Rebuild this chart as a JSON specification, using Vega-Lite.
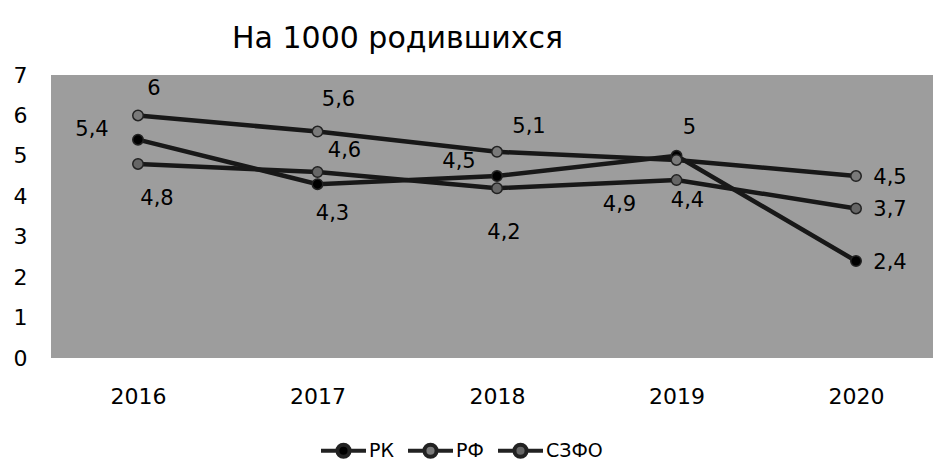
{
  "$schema": "https://vega.github.io/schema/vega-lite/v6.json",
  "width": 882,
  "height": 283,
  "autosize": "none",
  "padding": {"left": 51, "top": 75, "right": 0, "bottom": 104},
  "background": "white",
  "config": {
    "view": {"fill": "#9d9d9d", "stroke": null},
    "font": "DejaVu Sans",
    "locale": {"number": {"decimal": ",", "thousands": " ", "grouping": [3], "currency": ["", ""]}}
  },
  "title": {"text": "На 1000 родившихся", "anchor": "start", "frame": "group", "dx": 181, "fontSize": 30, "fontWeight": "normal", "color": "#000", "offset": 10, "font": "DejaVu Sans"},
  "data": {"values": [
    {"s": "РК", "year": "2016", "v": 5.4},
    {"s": "РК", "year": "2017", "v": 4.3},
    {"s": "РК", "year": "2018", "v": 4.5},
    {"s": "РК", "year": "2019", "v": 5.0},
    {"s": "РК", "year": "2020", "v": 2.4},
    {"s": "РФ", "year": "2016", "v": 6.0},
    {"s": "РФ", "year": "2017", "v": 5.6},
    {"s": "РФ", "year": "2018", "v": 5.1},
    {"s": "РФ", "year": "2019", "v": 4.9},
    {"s": "РФ", "year": "2020", "v": 4.5},
    {"s": "СЗФО", "year": "2016", "v": 4.8},
    {"s": "СЗФО", "year": "2017", "v": 4.6},
    {"s": "СЗФО", "year": "2018", "v": 4.2},
    {"s": "СЗФО", "year": "2019", "v": 4.4},
    {"s": "СЗФО", "year": "2020", "v": 3.7}
  ]},
  "encoding": {
    "x": {"field": "year", "type": "ordinal", "scale": {"type": "point", "range": [87, 805], "padding": 0},
      "axis": {"title": null, "labelAngle": 0, "domain": false, "ticks": false, "labelFontSize": 22, "labelPadding": 28, "labelColor": "#000"}},
    "y": {"field": "v", "type": "quantitative", "scale": {"domain": [0, 7], "nice": false},
      "axis": {"title": null, "values": [0, 1, 2, 3, 4, 5, 6, 7], "grid": false, "domain": false, "ticks": false, "labelFontSize": 22, "labelPadding": 24, "labelColor": "#000"}}
  },
  "layer": [
    {
      "mark": {"type": "line", "strokeWidth": 4.5, "color": "#181818"},
      "encoding": {"detail": {"field": "s", "type": "nominal"}}
    },
    {
      "mark": {"type": "point", "filled": true, "size": 110, "opacity": 1, "stroke": "#222222", "strokeWidth": 1.5},
      "encoding": {"fill": {"field": "s", "type": "nominal", "scale": {"domain": ["РК", "РФ", "СЗФО"], "range": ["#000000", "#7a7a7a", "#666666"]},
        "legend": {"title": null, "orient": "none", "legendX": 279, "legendY": 362, "direction": "horizontal",
          "symbolType": "M-2,0L-0.54,0M0.54,0L2,0M-0.54,0A0.54,0.54 0 1,0 0.54,0A0.54,0.54 0 1,0 -0.54,0Z",
          "symbolSize": 506, "labelFontSize": 19, "labelOffset": 12, "columnPadding": 6, "labelColor": "#000",
          "symbolStrokeWidth": 4, "symbolStrokeColor": "#222222"}}}
    },
    {"transform": [{"filter": "datum.year === '2020'"}], "mark": {"type": "text", "fontSize": 21, "dx": 34, "dy": 2, "color": "#000"}, "encoding": {"text": {"field": "v", "type": "quantitative", "format": ".1~f"}}},
    {"transform": [{"filter": "datum.s === 'РФ' && datum.year === '2016'"}], "mark": {"type": "text", "fontSize": 21, "dx": 16, "dy": -26, "color": "#000"}, "encoding": {"text": {"field": "v", "type": "quantitative", "format": ".1~f"}}},
    {"transform": [{"filter": "datum.s === 'РФ' && datum.year === '2017'"}], "mark": {"type": "text", "fontSize": 21, "dx": 21, "dy": -32, "color": "#000"}, "encoding": {"text": {"field": "v", "type": "quantitative", "format": ".1~f"}}},
    {"transform": [{"filter": "datum.s === 'РФ' && datum.year === '2018'"}], "mark": {"type": "text", "fontSize": 21, "dx": 32, "dy": -25, "color": "#000"}, "encoding": {"text": {"field": "v", "type": "quantitative", "format": ".1~f"}}},
    {"transform": [{"filter": "datum.s === 'РФ' && datum.year === '2019'"}], "mark": {"type": "text", "fontSize": 21, "dx": -57, "dy": 45, "color": "#000"}, "encoding": {"text": {"field": "v", "type": "quantitative", "format": ".1~f"}}},
    {"transform": [{"filter": "datum.s === 'РК' && datum.year === '2016'"}], "mark": {"type": "text", "fontSize": 21, "dx": -46, "dy": -10, "color": "#000"}, "encoding": {"text": {"field": "v", "type": "quantitative", "format": ".1~f"}}},
    {"transform": [{"filter": "datum.s === 'РК' && datum.year === '2017'"}], "mark": {"type": "text", "fontSize": 21, "dx": 15, "dy": 30, "color": "#000"}, "encoding": {"text": {"field": "v", "type": "quantitative", "format": ".1~f"}}},
    {"transform": [{"filter": "datum.s === 'РК' && datum.year === '2018'"}], "mark": {"type": "text", "fontSize": 21, "dx": -38, "dy": -14, "color": "#000"}, "encoding": {"text": {"field": "v", "type": "quantitative", "format": ".1~f"}}},
    {"transform": [{"filter": "datum.s === 'РК' && datum.year === '2019'"}], "mark": {"type": "text", "fontSize": 21, "dx": 13, "dy": -28, "color": "#000"}, "encoding": {"text": {"field": "v", "type": "quantitative", "format": ".1~f"}}},
    {"transform": [{"filter": "datum.s === 'СЗФО' && datum.year === '2016'"}], "mark": {"type": "text", "fontSize": 21, "dx": 19, "dy": 35, "color": "#000"}, "encoding": {"text": {"field": "v", "type": "quantitative", "format": ".1~f"}}},
    {"transform": [{"filter": "datum.s === 'СЗФО' && datum.year === '2017'"}], "mark": {"type": "text", "fontSize": 21, "dx": 27, "dy": -21, "color": "#000"}, "encoding": {"text": {"field": "v", "type": "quantitative", "format": ".1~f"}}},
    {"transform": [{"filter": "datum.s === 'СЗФО' && datum.year === '2018'"}], "mark": {"type": "text", "fontSize": 21, "dx": 7, "dy": 45, "color": "#000"}, "encoding": {"text": {"field": "v", "type": "quantitative", "format": ".1~f"}}},
    {"transform": [{"filter": "datum.s === 'СЗФО' && datum.year === '2019'"}], "mark": {"type": "text", "fontSize": 21, "dx": 11, "dy": 21, "color": "#000"}, "encoding": {"text": {"field": "v", "type": "quantitative", "format": ".1~f"}}}
  ]
}
